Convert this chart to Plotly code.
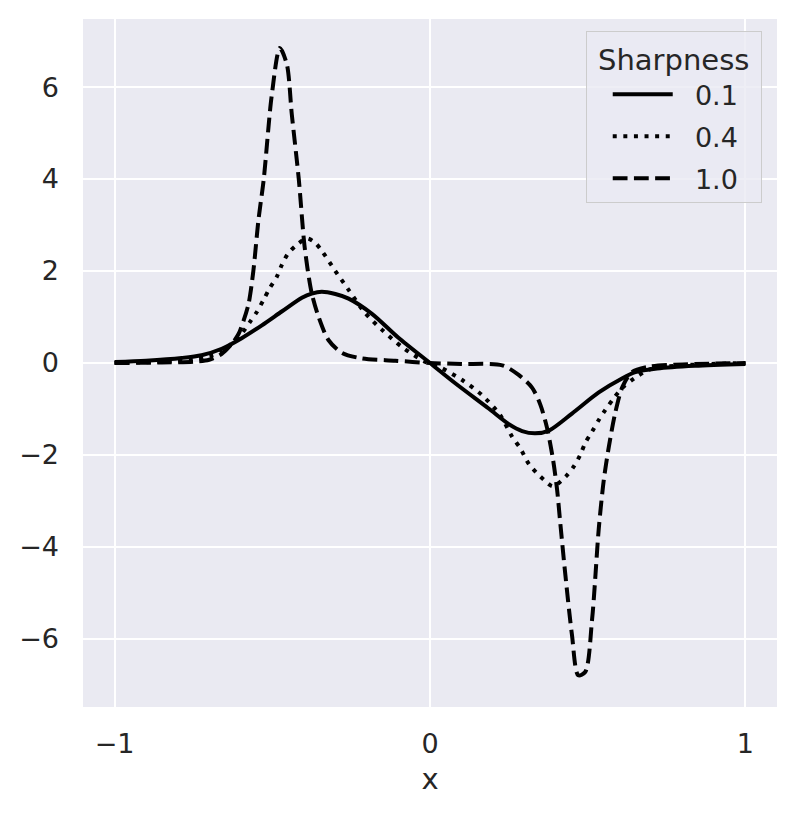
import plotly.graph_objects as go

# values
x_01 = [-1.0, -0.9, -0.787, -0.724, -0.66, -0.597, -0.533, -0.47, -0.406, -0.375, -0.343, -0.3,
        -0.258, -0.184, -0.1, 0.0, 0.08, 0.186, 0.25, 0.292, 0.333, 0.377, 0.45, 0.535,
        0.61, 0.651, 0.72, 0.84, 1.0]
y_01 = [0.02, 0.05, 0.11, 0.17, 0.31, 0.54, 0.82, 1.12, 1.42, 1.51, 1.55, 1.5,
        1.4, 1.07, 0.55, 0.0, -0.44, -0.99, -1.33, -1.48, -1.53, -1.47, -1.1, -0.64,
        -0.33, -0.2, -0.12, -0.06, -0.02]

x_04 = [-1.0, -0.85, -0.75, -0.7, -0.66, -0.62, -0.597, -0.571, -0.549, -0.528, -0.508, -0.486,
        -0.47, -0.449, -0.417, -0.39, -0.365, -0.343, -0.3, -0.258, -0.206, -0.152, -0.089, -0.016,
        0.028, 0.102, 0.165, 0.222, 0.26, 0.286, 0.314, 0.361, 0.39, 0.43, 0.456, 0.476,
        0.492, 0.514, 0.535, 0.556, 0.583, 0.61, 0.648, 0.7, 0.8, 1.0]
y_04 = [0.0, 0.03, 0.08, 0.15, 0.24, 0.48, 0.64, 0.89, 1.11, 1.37, 1.63, 1.87,
        2.13, 2.39, 2.6, 2.71, 2.62, 2.44, 2.0, 1.59, 1.09, 0.72, 0.35, 0.03,
        -0.08, -0.37, -0.7, -1.13, -1.6, -1.85, -2.2, -2.54, -2.68, -2.47, -2.25, -2.0,
        -1.74, -1.49, -1.24, -1.02, -0.76, -0.54, -0.33, -0.13, -0.05, 0.0]

x_10 = [-1.0, -0.85, -0.75, -0.7, -0.66, -0.629, -0.607, -0.591, -0.575, -0.56, -0.544, -0.527,
        -0.502, -0.476, -0.454, -0.438, -0.416, -0.397, -0.375, -0.353, -0.322, -0.279, -0.216,
        -0.11, 0.0, 0.1, 0.229, 0.281, 0.324, 0.35, 0.371, 0.39, 0.403, 0.413, 0.429,
        0.45, 0.47, 0.492, 0.514, 0.535, 0.551, 0.567, 0.587, 0.61, 0.64, 0.695, 0.8, 1.0]
y_10 = [0.0, 0.01, 0.03, 0.07, 0.2, 0.41, 0.63, 0.92, 1.29, 2.0, 3.1, 4.0,
        5.8, 6.85, 6.5, 5.4, 4.0, 2.5, 1.52, 1.0, 0.5, 0.22, 0.1,
        0.05, 0.0, -0.02, -0.05, -0.26, -0.54, -0.91, -1.41, -2.1, -2.76, -3.48, -4.6,
        -5.91, -6.79, -6.72, -5.56, -3.6, -2.54, -1.82, -1.09, -0.52, -0.2, -0.08, -0.03, 0.0]

series = [("0.1", x_01, y_01, "solid"),
          ("0.4", x_04, y_04, "4px,6.6px"),
          ("1.0", x_10, y_10, "14.8px,6.4px")]

fig = go.Figure()
for name, xs, ys, dash in series:
    # leading nbsp widen the gap between legend line and label, like matplotlib
    fig.add_trace(go.Scatter(x=xs, y=ys, name="\u00a0\u00a0" + name, mode="lines", legendgroup=name,
                             line=dict(color="black", width=4, dash=dash, shape="spline", smoothing=0.8)))

fig.update_layout(
    width=777, height=798,
    margin=dict(l=75, r=8, t=11, b=99),
    paper_bgcolor="white", plot_bgcolor="#EAEAF2",
    font=dict(family="DejaVu Sans", size=27, color="#262626"),
    showlegend=True,
    legend=dict(title=dict(text="\u00a0Sharpness\u00a0", side="top center", font=dict(size=29)),
                x=0.978, y=0.982, xanchor="right", yanchor="top",
                bgcolor="rgba(234,234,242,0.8)", bordercolor="#CCCCCC", borderwidth=1,
                itemwidth=60, tracegroupgap=4, indentation=21),
)
fig.update_xaxes(range=[-1.1, 1.1], tickvals=[-1, 0, 1], ticktext=["\u22121", "0", "1"],
                 gridcolor="white", gridwidth=2, zeroline=False, showline=False,
                 ticklabelstandoff=18, title=dict(text="x", font=dict(size=29), standoff=10))
fig.update_yaxes(range=[-7.48, 7.48], tickvals=[-6, -4, -2, 0, 2, 4, 6],
                 ticktext=["\u22126", "\u22124", "\u22122", "0", "2", "4", "6"],
                 gridcolor="white", gridwidth=2, zeroline=False, showline=False,
                 ticklabelstandoff=23)

fig.write_html("out.html")
